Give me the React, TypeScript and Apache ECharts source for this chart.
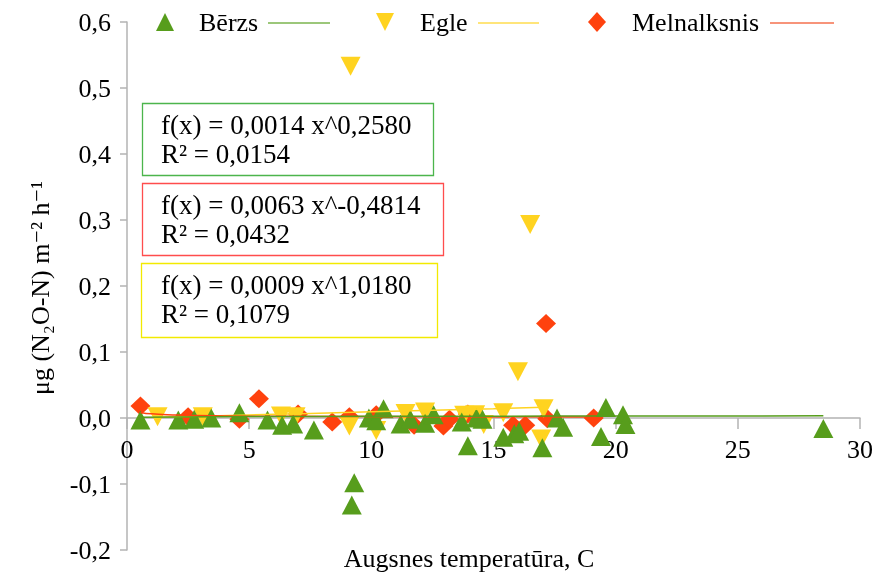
import React, { useEffect, useRef } from 'react';
import * as echarts from 'echarts';

// Scatter data [temperature, flux]
const berzs: [number, number][] = [
  [0.55, -0.003], [2.1, -0.003], [2.75, -0.002], [3.45, 0.0], [4.6, 0.008],
  [5.75, -0.003], [6.35, -0.011], [6.8, -0.009], [7.65, -0.018], [9.2, -0.132],
  [9.3, -0.098], [9.9, 0.0], [10.2, -0.004], [10.5, 0.014], [11.2, -0.009],
  [11.6, -0.002], [12.2, -0.008], [12.55, 0.005], [13.7, -0.006], [13.95, -0.042],
  [14.3, 0.0], [14.55, -0.002], [15.4, -0.029], [15.85, -0.024], [16.05, -0.02],
  [17.0, -0.045], [17.6, 0.0], [17.85, -0.014], [19.4, -0.028], [19.6, 0.016],
  [20.3, 0.005], [20.4, -0.01], [28.5, -0.016],
];
const egle: [number, number][] = [
  [1.25, 0.002], [3.1, 0.002], [6.3, 0.003], [6.9, 0.002], [9.1, -0.012],
  [9.15, 0.533], [10.2, -0.019], [11.4, 0.007], [12.2, 0.009], [13.8, 0.004],
  [14.25, 0.005], [14.6, -0.01], [15.4, 0.008], [16.0, 0.07], [16.5, 0.293],
  [17.05, 0.014], [16.95, -0.032],
];
const melnalksnis: [number, number][] = [
  [0.55, 0.018], [2.5, 0.002], [4.6, -0.002], [5.4, 0.029], [7.0, 0.006],
  [8.4, -0.006], [9.1, 0.002], [10.2, 0.005], [11.75, -0.011], [12.95, -0.012],
  [13.2, -0.002], [13.95, 0.006], [15.8, -0.011], [16.3, -0.011], [17.15, 0.143],
  [17.2, -0.001], [19.1, 0.0],
];

// Power trend lines
const trendBerzs: [number, number][] = [
  [0.55, 0.0012], [2, 0.0017], [5, 0.0021], [10, 0.0025], [15, 0.0028], [20, 0.003], [28.5, 0.0033],
];
const trendEgle: [number, number][] = [
  [1.25, 0.0011], [5, 0.0046], [10, 0.0094], [15, 0.0142], [17.05, 0.0162],
];
const trendMelnalksnis: [number, number][] = [
  [0.55, 0.0085], [1, 0.0063], [2, 0.0045], [4, 0.0032], [7, 0.0025], [10, 0.0021], [14, 0.0018], [19.1, 0.0015],
];

const seriesNames = ['Bērzs', 'Egle', 'Melnalksnis'];
const equations = [
  ['f(x) = 0,0014 x^0,2580', 'R² = 0,0154'],
  ['f(x) = 0,0063 x^-0,4814', 'R² = 0,0432'],
  ['f(x) = 0,0009 x^1,0180', 'R² = 0,1079'],
];

const GREEN = '#579d1c';
const YELLOW = '#ffd320';
const RED = '#ff420e';
const FONT = "'Liberation Serif', 'DejaVu Serif', serif";

const Y_MIN = -0.2;
const Y_MAX = 0.6;
const GRID_TOP = 22;
const GRID_BOTTOM = 28;
const CHART_H = 578;

export default function App() {
  const ref = useRef<HTMLDivElement>(null);
  useEffect(() => {
    const chart = echarts.init(ref.current!, null, { renderer: 'svg' });
    const txt = (x: number, y: number, text: string, extra: any = {}, size = 26) => ({
      type: 'text', x, y, z: 100,
      style: { text, font: `${size}px ${FONT}`, fill: '#000', verticalAlign: 'middle', align: 'left', ...extra },
    });
    const boxes = [
      { x: 142, y: 103, w: 291, h: 72, c: '#4cb54c' },
      { x: 142, y: 183, w: 301, h: 72, c: '#ff4d4d' },
      { x: 141, y: 263, w: 296, h: 74, c: '#f2ea00' },
    ];
    const graphic: any[] = [];
    boxes.forEach((b, i) => {
      graphic.push({
        type: 'rect', z: 99,
        shape: { x: b.x + 0.5, y: b.y + 0.5, width: b.w, height: b.h },
        style: { fill: '#fff', stroke: b.c, lineWidth: 1.3 },
      });
      graphic.push(txt(161, b.y + 22, equations[i][0], {}, 27));
      graphic.push(txt(161, b.y + 51, equations[i][1], {}, 27));
    });
    // legend
    graphic.push({ type: 'polygon', z: 100, shape: { points: [[156, 31], [174, 31], [165, 13]] }, style: { fill: GREEN } });
    graphic.push(txt(199, 22, seriesNames[0]));
    graphic.push({ type: 'line', z: 100, shape: { x1: 268, y1: 23, x2: 330, y2: 23 }, style: { stroke: '#9cc77a', lineWidth: 2 } });
    graphic.push({ type: 'polygon', z: 100, shape: { points: [[376, 13], [394, 13], [385, 31]] }, style: { fill: YELLOW } });
    graphic.push(txt(420, 22, seriesNames[1]));
    graphic.push({ type: 'line', z: 100, shape: { x1: 478, y1: 23, x2: 539, y2: 23 }, style: { stroke: '#ffe57a', lineWidth: 2 } });
    graphic.push({ type: 'polygon', z: 100, shape: { points: [[597, 12], [606, 22], [597, 32], [588, 22]] }, style: { fill: RED } });
    graphic.push(txt(632, 22, seriesNames[2]));
    graphic.push({ type: 'line', z: 100, shape: { x1: 770, y1: 23, x2: 834, y2: 23 }, style: { stroke: '#f7947a', lineWidth: 2 } });
    // axis names
    graphic.push(txt(469, 558, 'Augsnes temperatūra, C', { align: 'center' }));
    graphic.push({
      type: 'text', x: 40, y: 288, rotation: Math.PI / 2, z: 100,
      style: { text: 'μg (N₂O-N) m⁻² h⁻¹', font: `26px ${FONT}`, fill: '#000', align: 'center', verticalAlign: 'middle' },
    });

    // place the x axis on y = 0 (distance of zero from the grid bottom)
    const gridH = CHART_H - GRID_TOP - GRID_BOTTOM;
    const zeroOffset = -gridH * (0 - Y_MIN) / (Y_MAX - Y_MIN);

    const symSize: [number, number] = [20, 19];
    chart.setOption({
      animation: false,
      textStyle: { fontFamily: FONT },
      grid: { left: 127, right: 17, top: GRID_TOP, bottom: GRID_BOTTOM, containLabel: false, outerBoundsMode: 'none' },
      xAxis: {
        type: 'value', min: 0, max: 30, interval: 5,
        offset: zeroOffset,
        axisLine: { onZero: false, lineStyle: { color: '#b3b3b3', width: 1.5 } },
        axisTick: { show: true, length: 11, lineStyle: { color: '#b3b3b3', width: 1.5 } },
        axisLabel: { color: '#000', fontSize: 26, margin: 18, fontFamily: FONT },
        splitLine: { show: false },
      },
      yAxis: {
        type: 'value', min: Y_MIN, max: Y_MAX, interval: 0.1,
        axisLine: { show: true, onZero: false, lineStyle: { color: '#b3b3b3', width: 1.5 } },
        axisTick: { show: true, length: 7, lineStyle: { color: '#b3b3b3', width: 1.5 } },
        axisLabel: {
          color: '#000', fontSize: 26, margin: 16, fontFamily: FONT,
          formatter: (v: number) => v.toFixed(1).replace('.', ','),
        },
        splitLine: { show: false },
      },
      series: [
        { name: seriesNames[2], type: 'scatter', data: melnalksnis, symbol: 'diamond', symbolSize: symSize, itemStyle: { color: RED, opacity: 1 }, z: 2 },
        { name: seriesNames[1], type: 'scatter', data: egle, symbol: 'triangle', symbolRotate: 180, symbolSize: symSize, itemStyle: { color: YELLOW, opacity: 1 }, z: 3 },
        { name: seriesNames[0], type: 'scatter', data: berzs, symbol: 'triangle', symbolSize: symSize, itemStyle: { color: GREEN, opacity: 1 }, z: 4 },
        { type: 'line', data: trendEgle, smooth: true, showSymbol: false, lineStyle: { color: YELLOW, width: 1.5 }, z: 5 },
        { type: 'line', data: trendMelnalksnis, smooth: true, showSymbol: false, lineStyle: { color: RED, width: 1.5 }, z: 5 },
        { type: 'line', data: trendBerzs, smooth: true, showSymbol: false, lineStyle: { color: GREEN, width: 1.5 }, z: 6 },
      ],
      graphic,
    });
    return () => chart.dispose();
  }, []);
  return <div ref={ref} style={{ position: 'fixed', left: 0, top: 0, width: 877, height: 578 }} />;
}
